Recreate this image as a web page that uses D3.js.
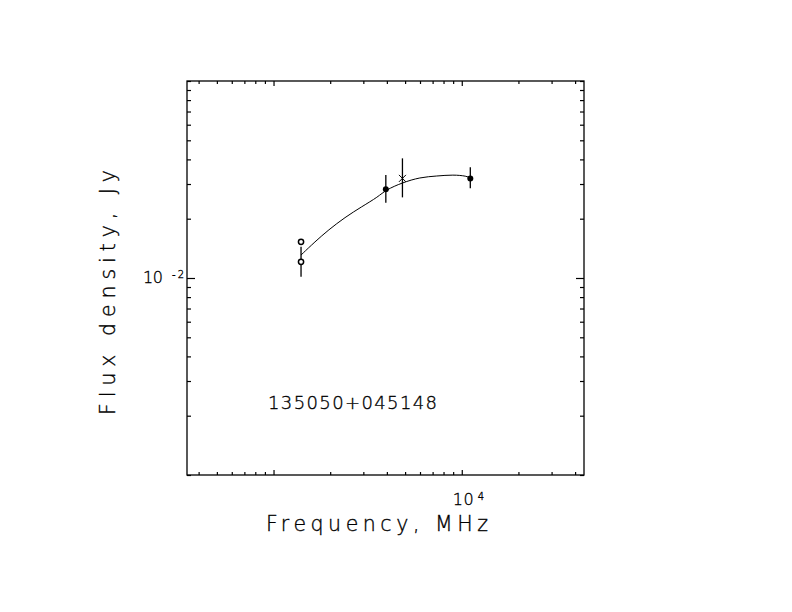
<!DOCTYPE html>
<html>
<head>
<meta charset="utf-8">
<script src="https://cdn.jsdelivr.net/npm/d3@7"></script>
<style>
	body { margin:0; background:#fff; }
	svg { display:block; }
	.st-text { font-family:"DejaVu Sans", sans-serif; font-weight:200; fill:#000; stroke:#000; stroke-width:0.35; }
	.chart-axis { stroke:#000; stroke-width:1.3; fill:none; }
	.fit-line { stroke:#000; stroke-width:1; fill:none; }
	.err-bar { stroke:#000; stroke-width:1.3; }
</style>
</head>
<body>
<svg class="arc" width="792" height="612"></svg>
<script>
// source name
var sourceName = '135050+045148';

// open circles (1.4 GHz)
var openFreq = [1400, 1400];
var openFlux = [0.01526, 0.01208];
var openLo   = [null, 0.01014];
var openHi   = [null, 0.01439];

// filled dots
var dotFreq = [3950, 11100];
var dotFlux = [0.02818, 0.03204];
var dotLo   = [0.02408, 0.02851];
var dotHi   = [0.03331, 0.03644];

// cross
var crossFreq = [4840];
var crossFlux = [0.03204];
var crossLo   = [0.02566];
var crossHi   = [0.04049];

// fitted spectrum
var fitFreq = [1400, 1662, 1955, 2398, 2941, 3603, 3945, 4833, 6001, 7362, 9019, 10627, 11160];
var fitFlux = [0.01308, 0.01529, 0.01752, 0.02033, 0.02301, 0.02586, 0.02798, 0.03047, 0.03245, 0.03294, 0.03345, 0.03294, 0.03207];

// axes
var xDomain = [347, 44600];
var yDomain = [0.001, 0.1];
var xMajor = [1e3, 1e4];
var yMajor = [1e-2];
var xLabels = [{v:1e4, base:'10', exp:'4'}];
var yLabels = [{v:1e-2, base:'10', exp:'-2'}];

var box = {x0:187, x1:584, y0:81, y1:475};
var svg = d3.select('.arc');

var x = d3.scaleLog().domain(xDomain).range([box.x0, box.x1]);
var y = d3.scaleLog().domain(yDomain).range([box.y1, box.y0]);

function addLine(g, x1, y1, x2, y2, css){
	return g.append('line').attr('x1', x1).attr('y1', y1).attr('x2', x2).attr('y2', y2).attr('class', css);
}
function addText(g, tx, ty, text, size, anchor){
	return g.append('text').attr('x', tx).attr('y', ty).attr('class', 'st-text')
		.attr('font-size', size).attr('text-anchor', anchor || 'start').text(text);
}

// ticks, all pointing inward
function tickAxis(axisFn, scale, vals, size, tx, ty){
	var a = axisFn(scale).tickValues(vals).tickSize(size).tickSizeOuter(0).tickFormat('');
	var g = svg.append('g').attr('transform', 'translate(' + tx + ',' + ty + ')').call(a);
	g.select('.domain').remove();
	g.selectAll('line').attr('stroke', '#000').attr('stroke-width', 1.2);
}
var xMinor = x.ticks().filter(function(v){ return xMajor.indexOf(v) < 0; });
var yMinor = y.ticks().filter(function(v){ return yMajor.indexOf(v) < 0; });

tickAxis(d3.axisBottom, x, xMinor, -3, 0, box.y1);
tickAxis(d3.axisBottom, x, xMajor, -5, 0, box.y1);
tickAxis(d3.axisTop, x, xMinor, -3, 0, box.y0);
tickAxis(d3.axisTop, x, xMajor, -5, 0, box.y0);
tickAxis(d3.axisLeft, y, yMinor, -4, box.x0, 0);
tickAxis(d3.axisLeft, y, yMajor, -8, box.x0, 0);
tickAxis(d3.axisRight, y, yMinor, -4, box.x1, 0);
tickAxis(d3.axisRight, y, yMajor, -8, box.x1, 0);

svg.append('rect').attr('x', box.x0).attr('y', box.y0)
	.attr('width', box.x1 - box.x0).attr('height', box.y1 - box.y0).attr('class', 'chart-axis');

// tick labels
xLabels.forEach(function(l){
	var px = x(l.v);
	addText(svg, px - 9, 505, l.base, 16).attr('textLength', 21);
	addText(svg, px + 16, 500, l.exp, 10).attr('textLength', 6);
});
yLabels.forEach(function(l){
	var py = y(l.v);
	addText(svg, 143, py + 4.5, l.base, 16).attr('textLength', 20);
	addText(svg, 172, py, l.exp, 10).attr('textLength', 12);
});

// axis titles
addText(svg, 266, 531, 'Frequency, MHz', 20.5).attr('textLength', 222);
addText(svg, 0, 0, 'Flux density, Jy', 20.5).attr('textLength', 245)
	.attr('transform', 'translate(115,415) rotate(-90)');

// source name
addText(svg, 268, 409, sourceName, 18).attr('textLength', 169);

// fit curve
var fitPts = fitFreq.map(function(f, i){ return [x(f), y(fitFlux[i])]; });
svg.append('path').attr('class', 'fit-line')
	.attr('d', d3.line().curve(d3.curveBasis)(fitPts));

// error bars
function errBars(fr, lo, hi){
	fr.forEach(function(f, i){
		if(lo[i] == null) return;
		addLine(svg, x(f), y(lo[i]), x(f), y(hi[i]), 'err-bar');
	});
}
errBars(openFreq, openLo, openHi);
errBars(dotFreq, dotLo, dotHi);
errBars(crossFreq, crossLo, crossHi);

// markers
openFreq.forEach(function(f, i){
	svg.append('circle').attr('cx', x(f)).attr('cy', y(openFlux[i])).attr('r', 2.6)
		.attr('fill', '#fff').attr('stroke', '#000').attr('stroke-width', 1.5);
});
dotFreq.forEach(function(f, i){
	svg.append('circle').attr('cx', x(f)).attr('cy', y(dotFlux[i])).attr('r', 3).attr('fill', '#000');
});
crossFreq.forEach(function(f, i){
	var cx = x(f), cy = y(crossFlux[i]), s = 3.5;
	addLine(svg, cx - s, cy - s, cx + s, cy + s, 'fit-line');
	addLine(svg, cx - s, cy + s, cx + s, cy - s, 'fit-line');
});
</script>
</body>
</html>
